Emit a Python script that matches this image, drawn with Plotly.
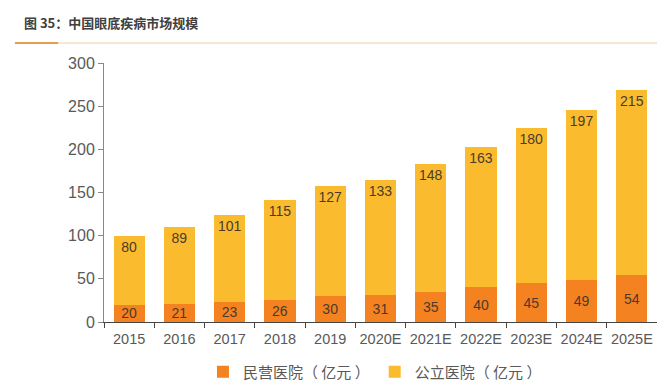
import plotly.graph_objects as go

years = ["2015", "2016", "2017", "2018", "2019", "2020E", "2021E", "2022E", "2023E", "2024E", "2025E"]
private_vals = [20, 21, 23, 26, 30, 31, 35, 40, 45, 49, 54]
public_vals = [80, 89, 101, 115, 127, 133, 148, 163, 180, 197, 215]
y_ticks = [0, 50, 100, 150, 200, 250, 300]

FONT = "Liberation Sans, Arial, Noto Sans CJK SC, sans-serif"
CJK = "Noto Sans CJK SC, sans-serif"

fig = go.Figure()
fig.add_trace(go.Bar(
    x=years, y=private_vals, name="民营医院（ 亿元 ）",
    marker=dict(color="#F58220", line=dict(width=0)),
    text=[str(v) for v in private_vals], textposition="inside",
    insidetextanchor="middle", textangle=0, constraintext="none",
    textfont=dict(size=14, color="#4a3b2b", family=FONT),
))
fig.add_trace(go.Bar(
    x=years, y=public_vals, name="公立医院（ 亿元 ）",
    marker=dict(color="#FBBB2E", line=dict(width=0)),
    text=[str(v) for v in public_vals], textposition="inside",
    insidetextanchor="end", textangle=0, constraintext="none",
    textfont=dict(size=14, color="#4a3b2b", family=FONT),
))

fig.update_layout(
    barmode="stack", bargap=0.38,
    width=657, height=382,
    margin=dict(l=96, r=8, t=55, b=68, pad=0, autoexpand=False),
    paper_bgcolor="white", plot_bgcolor="white",
    font=dict(family=FONT, color="#595959", size=14),
    showlegend=True,
    legend=dict(orientation="h", x=0.49, xanchor="center", y=-0.193, yanchor="middle",
                font=dict(size=15, color="#595959", family=CJK), traceorder="normal"),
    uniformtext=dict(minsize=14, mode="show"),
)
fig.update_xaxes(
    type="category", showline=True, linecolor="#444444", linewidth=1,
    ticks="outside", tickson="boundaries", ticklen=5, tickcolor="#444444",
    ticklabelstandoff=4,
    tickangle=0, tickfont=dict(size=14.5, color="#595959"), showgrid=False,
    automargin=False,
)
fig.update_yaxes(
    range=[0, 300], tickvals=y_ticks, showline=True, linecolor="#888888",
    linewidth=1, ticks="outside", ticklen=5, tickcolor="#888888",
    tickfont=dict(size=16, color="#595959"), showgrid=False, zeroline=False,
    automargin=False,
)

fig.add_annotation(
    text="<b>图 35：中国眼底疾病市场规模</b>", xref="paper", yref="paper",
    x=-0.148, xanchor="left", y=1.158, yanchor="middle",
    showarrow=False, font=dict(size=13, color="#404040", family=CJK),
)
fig.add_shape(type="line", xref="paper", yref="paper", x0=-0.161, x1=1.005,
              y0=1.077, y1=1.077, line=dict(color="#EBCFA8", width=1))
fig.add_shape(type="line", xref="paper", yref="paper", x0=-0.161, x1=-0.083,
              y0=1.077, y1=1.077, line=dict(color="#E2A04E", width=2))

fig.write_html("out.html")
